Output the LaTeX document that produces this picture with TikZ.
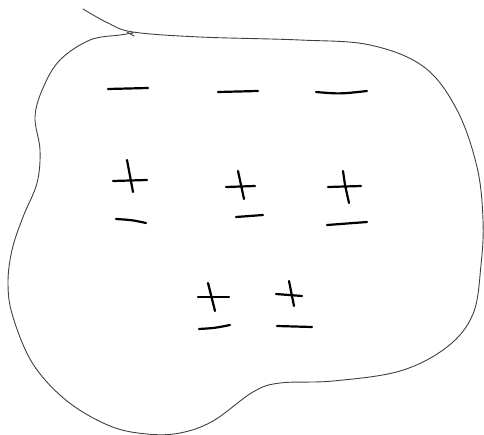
\documentclass[tikz,border=0pt]{standalone}
\begin{document}
\begin{tikzpicture}[x=1pt,y=-1pt,
  outline/.style={draw=black!75,line width=0.9pt,line cap=round,line join=round},
  stroke/.style={draw=black,line width=2.2pt,line cap=round}]
\useasboundingbox (0,0) rectangle (484,434);
% blob outline
\draw[outline] plot[smooth,tension=0.6] coordinates {
 (83,9) (108,23) (133,32) (200,37) (300,40) (370,45) (424,67) (457,110) (477,167)
 (483,220) (481,265) (473,314) (447,347) (400,371) (333,381) (280,383) (253,392)
 (213,421) (180,433) (147,434) (110,426) (67,401) (33,364) (13,317) (8,284)
 (12,250) (23,217) (37,183) (40,150) (35,117) (43,88) (60,60) (90,40) (120,35) (133,33)};
\draw[outline] (127,32) -- (134,36);
% row 1: minus signs
\draw[stroke] (108,89) -- (148,88);
\draw[stroke] (218,92) -- (258,91);
\draw[stroke] (316,92) .. controls (340,94) .. (367,91);
% row 2
\draw[stroke] (113,181) -- (147,180);
\draw[stroke] (127,160) -- (133,192);
\draw[stroke] (116,219) .. controls (132,220) .. (146,223);
\draw[stroke] (226,187) -- (255,186);
\draw[stroke] (238,171) -- (244,199);
\draw[stroke] (236,217) -- (263,215);
\draw[stroke] (328,187) -- (361,186);
\draw[stroke] (343,171) -- (345,185) -- (349,203);
\draw[stroke] (327,225) -- (367,222);
% row 3
\draw[stroke] (198,297) -- (229,297);
\draw[stroke] (208,283) -- (215,311);
\draw[stroke] (199,329) .. controls (215,328) .. (230,325);
\draw[stroke] (276,294) -- (302,296);
\draw[stroke] (289,281) -- (294,306);
\draw[stroke] (277,326) -- (312,327);
\end{tikzpicture}
\end{document}
